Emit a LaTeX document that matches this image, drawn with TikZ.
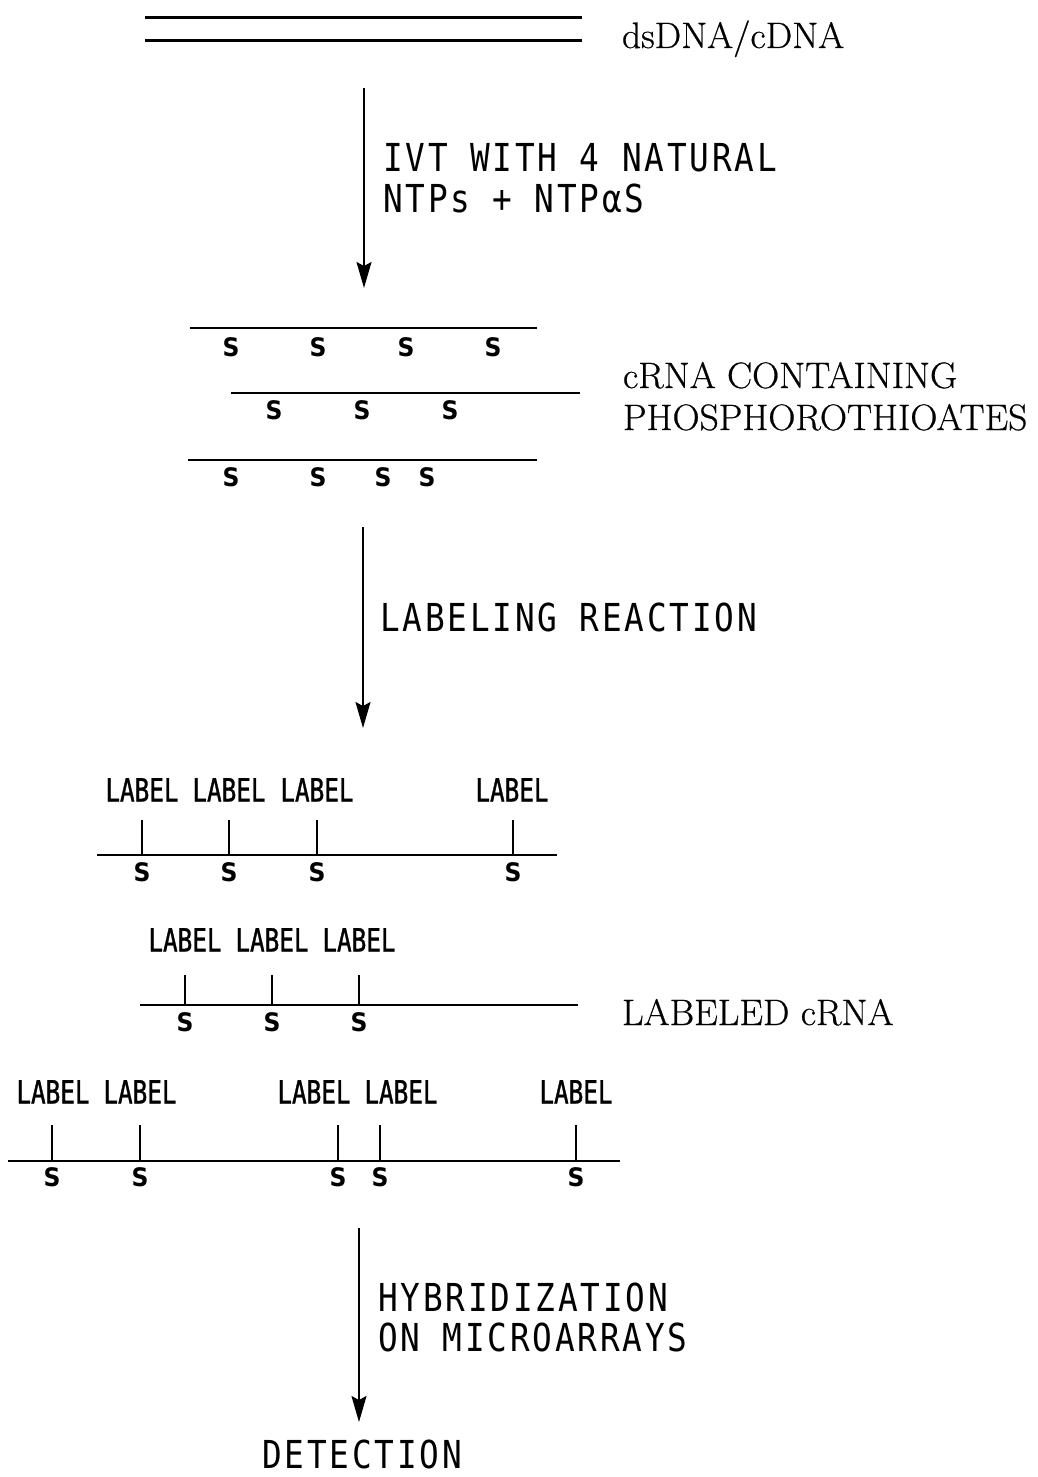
\documentclass[tikz,border=0pt]{standalone}
\usepackage{fontspec}
\usetikzlibrary{arrows.meta}
% plotter-style lettering for the step texts and labels
\newfontfamily\stepfont[FakeStretch=0.85,LetterSpace=7.3]{DejaVu Sans Mono}
\newfontfamily\tagfont[FakeStretch=0.76,FakeBold=1]{DejaVu Sans Mono}
\newfontfamily\sfont[FakeStretch=0.92]{DejaVu Sans}
\newfontfamily\namefont[FakeBold=0.6,FakeStretch=1.02]{Latin Modern Roman}

\tikzset{
  every node/.style={inner sep=0pt, outer sep=0pt},
  strand/.style={line width=2.2pt},
  duplex/.style={line width=3pt},
  tick/.style={line width=1.5pt},
  flow/.style={line width=1.6pt, -{Stealth[length=26pt,width=15pt,inset=4pt]}},
  steptext/.style={anchor=base west, font=\stepfont\fontsize{38.5}{40}\selectfont},
  tagtext/.style={anchor=base, font=\tagfont\fontsize{32}{34}\selectfont},
  stext/.style={anchor=base, font=\sfont\bfseries\fontsize{25.5}{27}\selectfont},
  nametext/.style={anchor=base west, font=\namefont\fontsize{36.8}{40}\selectfont},
}

\begin{document}
\begin{tikzpicture}[x=1pt, y=-1pt]
\useasboundingbox (0,0) rectangle (1038,1477);

% double-stranded template
\coordinate (d1a) at (145,18);  \coordinate (d1b) at (582,18);
\coordinate (d2a) at (145,41);  \coordinate (d2b) at (582,41);
\draw[duplex] (d1a) -- (d1b);
\draw[duplex] (d2a) -- (d2b);
\node[nametext] (dsname) at (622,48) {dsDNA/cDNA};

% step 1: in vitro transcription
\coordinate (a1s) at (364,88);  \coordinate (a1e) at (364,288);
\draw[flow] (a1s) -- (a1e);
\node[steptext] (ivt1) at (383,171) {IVT WITH 4 NATURAL};
\node[steptext] (ivt2) at (383,212) {NTPs + NTPαS};

% cRNA strands carrying phosphorothioates
\coordinate (r1a) at (190,328); \coordinate (r1b) at (537,328);
\coordinate (r2a) at (231,393); \coordinate (r2b) at (580,393);
\coordinate (r3a) at (188,460); \coordinate (r3b) at (537,460);
\draw[strand] (r1a) -- (r1b);
\draw[strand] (r2a) -- (r2b);
\draw[strand] (r3a) -- (r3b);
\foreach \x [count=\i] in {231,318,406,493} \node[stext] (r1s\i) at (\x,356.5) {S};
\foreach \x [count=\i] in {274,362,450} \node[stext] (r2s\i) at (\x,419.5) {S};
\foreach \x [count=\i] in {231,318,383,427} \node[stext] (r3s\i) at (\x,486.5) {S};
\node[nametext] (crna1) at (623,388) {cRNA CONTAINING};
\node[nametext] (crna2) at (623,430) {PHOSPHOROTHIOATES};

% step 2: labeling reaction
\coordinate (a2s) at (363,527);  \coordinate (a2e) at (363,728);
\draw[flow] (a2s) -- (a2e);
\node[steptext] (lab) at (380,631) {LABELING REACTION};

% labeled strand A
\coordinate (la) at (97,855); \coordinate (lb) at (557,855);
\draw[strand] (la) -- (lb);
\foreach \x [count=\i] in {142,229,317,513} {
  \coordinate (at\i) at (\x,820);
  \coordinate (ab\i) at (\x,855);
  \draw[tick] (at\i) -- (ab\i);
  \node[stext] (as\i) at (\x,881.5) {S};
}
\foreach \x [count=\i] in {142,229,317,512} \node[tagtext] (al\i) at (\x,801.5) {LABEL};

% labeled strand B
\coordinate (ma) at (140,1005); \coordinate (mb) at (578,1005);
\draw[strand] (ma) -- (mb);
\foreach \x [count=\i] in {185,272,359} {
  \coordinate (bt\i) at (\x,975);
  \coordinate (bb\i) at (\x,1005);
  \draw[tick] (bt\i) -- (bb\i);
  \node[stext] (bs\i) at (\x,1031.5) {S};
  \node[tagtext] (bl\i) at (\x,951.5) {LABEL};
}
\node[nametext] (lcrna) at (622,1025) {LABELED cRNA};

% labeled strand C
\coordinate (na) at (8,1161); \coordinate (nb) at (620,1161);
\draw[strand] (na) -- (nb);
\foreach \x [count=\i] in {52,140,338,380,576} {
  \coordinate (ct\i) at (\x,1125);
  \coordinate (cb\i) at (\x,1161);
  \draw[tick] (ct\i) -- (cb\i);
  \node[stext] (cs\i) at (\x,1186.5) {S};
}
\foreach \x [count=\i] in {53,140,314,401,576} \node[tagtext] (cl\i) at (\x,1103.5) {LABEL};

% step 3: hybridization and detection
\coordinate (a3s) at (359,1228);
\coordinate (a3e) at (359,1422);
\draw[flow] (a3s) -- (a3e);
\node[steptext] (hyb1) at (378,1311) {HYBRIDIZATION};
\node[steptext] (hyb2) at (378,1351) {ON MICROARRAYS};
\node[steptext] (det) at (262,1468) {DETECTION};
\end{tikzpicture}
\end{document}
